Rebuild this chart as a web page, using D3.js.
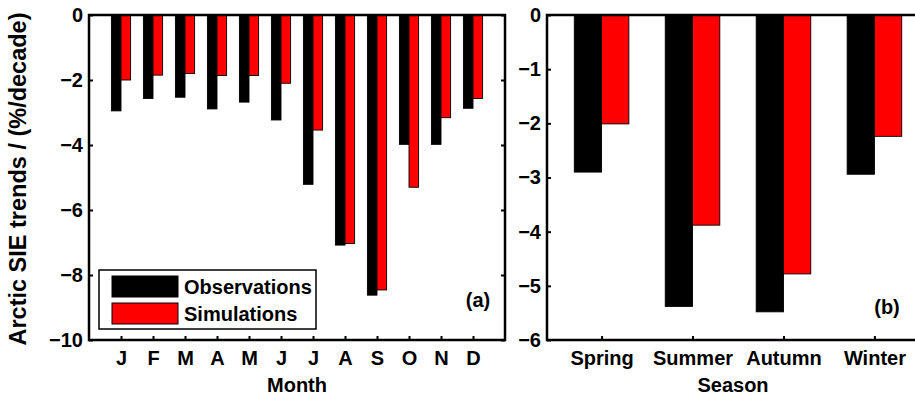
<!DOCTYPE html>
<html>
<head>
<meta charset="utf-8">
<script src="https://cdn.jsdelivr.net/npm/d3@7"></script>
<style>
  html, body { margin: 0; padding: 0; background: #fff; }
  svg { display: block; }
  text { font-family: "Liberation Sans", Arial, sans-serif; font-weight: bold; fill: #000; }
</style>
</head>
<body>
<svg id="chart" width="915" height="399"></svg>
<script>
// Monthly Arctic sea-ice extent trends (%/decade)
const months = ["J", "F", "M", "A", "M", "J", "J", "A", "S", "O", "N", "D"];
const monthObs = [-2.95, -2.57, -2.53, -2.89, -2.68, -3.23, -5.21, -7.08, -8.62, -3.98, -3.98, -2.87];
const monthSim = [-2.00, -1.85, -1.80, -1.86, -1.86, -2.10, -3.54, -7.03, -8.46, -5.30, -3.16, -2.57];
const monthTicks = [0, -2, -4, -6, -8, -10];

// Seasonal trends (%/decade)
const seasons = ["Spring", "Summer", "Autumn", "Winter"];
const seasonObs = [-2.90, -5.38, -5.48, -2.94];
const seasonSim = [-2.01, -3.88, -4.78, -2.24];
const seasonTicks = [0, -1, -2, -3, -4, -5, -6];

const seriesNames = ["Observations", "Simulations"];
const seriesColors = ["#000000", "#ff0000"];

const svg = d3.select("#chart");
const barW = 0.3;     // bar width in category units
const tickLen = 4;
const frameW = 2.5;

function panel(opts) {
  const { x0, x1, xDomain, yDomain, cats, obs, sim, yTicks, xlabel, tag, tagPos, labelX } = opts;
  const top = 15, bottom = 340;
  const x = d3.scaleLinear().domain(xDomain).range([x0, x1]);
  const y = d3.scaleLinear().domain(yDomain).range([bottom, top]);
  const g = svg.append("g");
  const pos = cats.map((_, i) => i + 1);

  // bars: observations left of the category, simulations right of it
  [obs, sim].forEach((vals, s) => {
    g.append("g").selectAll("rect").data(vals).join("rect")
      .attr("x", (d, i) => x(pos[i] + (s === 0 ? -barW : 0)))
      .attr("width", x(barW) - x(0))
      .attr("y", y(0))
      .attr("height", d => y(d) - y(0))
      .attr("fill", seriesColors[s])
      .attr("stroke", "#000")
      .attr("stroke-width", 0.9);
  });

  // left axis with inward ticks
  const ax = g.append("g").attr("transform", `translate(${x0},0)`)
    .call(d3.axisLeft(y).tickValues(yTicks).tickFormat(d3.format("d"))
      .tickSizeInner(-tickLen).tickSizeOuter(0).tickPadding(6));
  // right axis ticks (no labels)
  const axR = g.append("g").attr("transform", `translate(${x1},0)`)
    .call(d3.axisRight(y).tickValues(yTicks).tickFormat("")
      .tickSizeInner(-tickLen).tickSizeOuter(0));
  // bottom axis with category labels
  const axB = g.append("g").attr("transform", `translate(0,${bottom})`)
    .call(d3.axisBottom(x).tickValues(pos).tickFormat((d, i) => cats[i])
      .tickSizeInner(-tickLen).tickSizeOuter(0).tickPadding(11));

  [ax, axR, axB].forEach(a => {
    a.select(".domain").remove();
    a.selectAll(".tick line").attr("stroke", "#000").attr("stroke-width", 2);
    a.selectAll("text").attr("font-size", 20).attr("font-family", null);
  });
  axB.selectAll("text").attr("dy", "0.71em");

  // frame
  g.append("rect")
    .attr("x", x0).attr("y", top)
    .attr("width", x1 - x0).attr("height", bottom - top)
    .attr("fill", "none").attr("stroke", "#000").attr("stroke-width", frameW);

  g.append("text").attr("x", labelX).attr("y", 392)
    .attr("text-anchor", "middle").attr("font-size", 20).text(xlabel);

  g.append("text").attr("x", tagPos[0]).attr("y", tagPos[1])
    .attr("text-anchor", "middle").attr("font-size", 20).text(tag);

  return { x, y, g };
}

const left = panel({
  x0: 89, x1: 505, xDomain: [0, 13], yDomain: [-10, 0],
  cats: months, obs: monthObs, sim: monthSim, yTicks: monthTicks,
  xlabel: "Month", tag: "(a)", tagPos: [478, 307], labelX: 297
});

const right = panel({
  x0: 547, x1: 929, xDomain: [0.4, 4.6], yDomain: [-6, 0],
  cats: seasons, obs: seasonObs, sim: seasonSim, yTicks: seasonTicks,
  xlabel: "Season", tag: "(b)", tagPos: [887, 314], labelX: 733
});

// shared y-axis title
svg.append("text")
  .attr("transform", "translate(26,179) rotate(-90)")
  .attr("text-anchor", "middle")
  .attr("font-size", 23.5)
  .text("Arctic SIE trends / (%/decade)");

// legend
const lg = svg.append("g");
lg.append("rect").attr("x", 99).attr("y", 270).attr("width", 217).attr("height", 59)
  .attr("fill", "#fff").attr("stroke", "#000").attr("stroke-width", 1.5);
seriesNames.forEach((name, i) => {
  const yy = 276 + i * 27;
  lg.append("rect").attr("x", 112).attr("y", yy).attr("width", 66).attr("height", 21)
    .attr("fill", seriesColors[i]).attr("stroke", "#000").attr("stroke-width", 1);
  lg.append("text").attr("x", 184).attr("y", yy + 18).attr("font-size", 20).text(name);
});
</script>
</body>
</html>
